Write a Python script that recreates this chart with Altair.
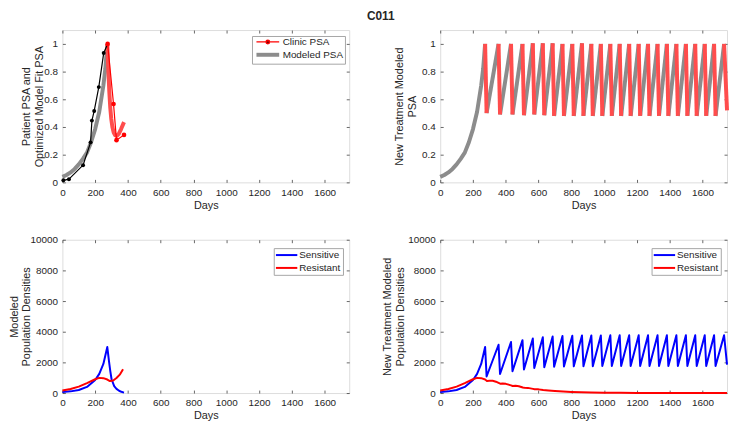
import altair as alt
import pandas as pd

FONT = "Liberation Sans"
TXT = "#262626"
BOX = "#a6a6a6"
GRAY = "#8c8c8c"
RED_THICK = "#ff4d4d"
RED = "#ff0000"
BLUE = "#0000ff"

X_MAX = 1750
X_TICKS = [0, 200, 400, 600, 800, 1000, 1200, 1400, 1600]
PSA_TICKS = [0, 0.2, 0.4, 0.6, 0.8, 1.0]
POP_TICKS = [0, 2000, 4000, 6000, 8000, 10000]

# ---- top-left : clinic PSA and fitted model ----
MODEL_PRE_DAY = [0, 25, 50, 75, 100, 125, 150, 175, 200, 225, 250, 262, 274]
MODEL_PRE_PSA = [0.040, 0.053, 0.072, 0.097, 0.13, 0.17, 0.215, 0.29, 0.385, 0.51, 0.70, 0.82, 1.0]
MODEL_TX_DAY = [274, 280, 286, 292, 298, 305, 313, 322, 332, 344, 358, 376]
MODEL_TX_PSA = [1.0, 0.82, 0.66, 0.54, 0.46, 0.40, 0.36, 0.34, 0.335, 0.35, 0.385, 0.435]
CLINIC_BLACK_DAY = [6, 40, 126, 172, 180, 194, 222, 252]
CLINIC_BLACK_PSA = [0.015, 0.023, 0.124, 0.289, 0.446, 0.516, 0.688, 0.934]
CLINIC_RED_DAY = [276, 312, 330, 376]
CLINIC_RED_PSA = [1.0, 0.566, 0.305, 0.343]

# ---- new treatment cycles ----
PEAK_DAY = [274, 356, 432, 502, 565, 626, 686, 746, 806, 865, 922, 980, 1038,
            1095, 1153, 1211, 1268, 1326, 1383, 1441, 1499, 1556, 1614, 1671, 1732]
TROUGH_DAY = [283, 365, 441, 511, 574, 635, 695, 755, 815, 874, 931, 989, 1047,
              1104, 1162, 1220, 1277, 1335, 1392, 1450, 1508, 1565, 1623, 1680, 1750]
PSA_PEAK = [1.0, 1.0, 1.0, 1.0, 1.005, 1.005, 1.005, 1.0, 1.0, 1.005, 1.0, 1.0, 1.0,
            1.0, 1.0, 1.0, 1.0, 1.0, 1.0, 1.0, 1.0, 1.0, 1.0, 1.0, 1.0]
PSA_TROUGH = [0.50, 0.49, 0.49, 0.485, 0.49, 0.485, 0.48, 0.48, 0.48, 0.48, 0.48, 0.48, 0.48,
              0.48, 0.48, 0.48, 0.48, 0.48, 0.48, 0.48, 0.48, 0.48, 0.48, 0.48, 0.52]
SENS_PEAK = [3000, 3150, 3330, 3450, 3560, 3640, 3690, 3720, 3740, 3750, 3760, 3760, 3770,
             3770, 3770, 3770, 3770, 3770, 3770, 3770, 3770, 3770, 3770, 3770, 3770]
SENS_TROUGH = [1080, 1240, 1420, 1540, 1630, 1680, 1710, 1730, 1740, 1750, 1750, 1760, 1760,
               1760, 1760, 1760, 1760, 1760, 1760, 1760, 1760, 1760, 1760, 1760, 1850]

# ---- population densities ----
SENS_PRE_DAY = [0, 50, 100, 150, 200, 225, 250, 274]
SENS_PRE = [60, 110, 200, 400, 850, 1250, 1900, 3000]
SENS1_TAIL_DAY = [284, 292, 300, 316, 330, 346, 360, 376]
SENS1_TAIL = [2100, 1450, 900, 450, 270, 150, 80, 30]
RES_PRE_DAY = [0, 50, 100, 150, 200, 225, 250, 274]
RES_PRE = [160, 260, 420, 650, 900, 990, 970, 880]
RES1_TAIL_DAY = [290, 310, 330, 350, 370]
RES1_TAIL = [780, 820, 980, 1200, 1550]
RES2_TAIL_DAY = [285, 300, 320, 340, 356, 366, 380, 400, 432, 442, 460, 480, 504, 514, 535,
                 566, 576, 600, 628, 660, 700, 750, 800, 860, 920, 1000, 1100, 1200, 1350, 1500, 1750]
RES2_TAIL = [790, 800, 800, 740, 660, 610, 620, 600, 500, 460, 470, 440, 360, 340, 335,
             270, 250, 240, 195, 165, 130, 95, 70, 48, 32, 20, 12, 8, 5, 3, 2]

W = 290
H_TOP = 154
H_BOT = 155


def xs():
    return alt.Scale(domain=[0, X_MAX], nice=False, zero=False)


def main_x():
    return alt.Axis(values=X_TICKS, title="Days", tickSize=0, domain=False, grid=False,
                    labelPadding=5, titlePadding=2, labelFlush=False, labelOverlap=False,
                    labelFontSize=10, titleFontSize=11, labelFont=FONT, titleFont=FONT,
                    labelColor=TXT, titleColor=TXT, titleFontWeight="normal", format="d")


def main_y(title, tx, lh, ticks, fmt):
    return alt.Axis(values=ticks, title=title, tickSize=0, domain=False, grid=False,
                    labelPadding=5, labelOverlap=False, format=fmt, titleX=tx, titleAngle=270,
                    titleBaseline="bottom", titleAlign="center", titleLineHeight=lh,
                    labelFontSize=10, titleFontSize=11, labelFont=FONT, titleFont=FONT,
                    labelColor=TXT, titleColor=TXT, titleFontWeight="normal")


def tick_layer(ydom, yticks, h, which):
    d = pd.DataFrame({"x": [X_TICKS[0]], "y": [yticks[0]]})
    common = dict(labels=False, tickSize=3, tickWidth=0.7, tickColor=TXT,
                  domain=False, grid=False, title=None)
    if which == "a":
        xa = alt.Axis(orient="top", offset=-h, values=X_TICKS, **common)
        ya = alt.Axis(orient="right", offset=-W, values=yticks, **common)
    else:
        xa = alt.Axis(orient="bottom", offset=-h, values=X_TICKS, **common)
        ya = alt.Axis(orient="left", offset=-W, values=yticks, **common)
    return alt.Chart(d).mark_point(opacity=0).encode(
        x=alt.X("x:Q", scale=xs(), axis=xa),
        y=alt.Y("y:Q", scale=alt.Scale(domain=ydom, nice=False, zero=False), axis=ya),
    )


def panel(layers, ydom, yticks, h):
    return alt.layer(*layers, tick_layer(ydom, yticks, h, "a"), tick_layer(ydom, yticks, h, "b")).resolve_axis(
        x="independent", y="independent").properties(width=W, height=h)


def line(df, ycol, ydom, color, width, xaxis=None, yaxis=None, detail=None):
    enc = dict(
        x=alt.X("day:Q", scale=xs(), axis=xaxis),
        y=alt.Y(f"{ycol}:Q", scale=alt.Scale(domain=ydom, nice=False, zero=False), axis=yaxis),
    )
    if detail:
        enc["detail"] = alt.Detail(f"{detail}:N")
    return alt.Chart(df).mark_line(color=color, strokeWidth=width, strokeJoin="round").encode(**enc)


PSA_DOM = [0, 1.1]
POP_DOM = [0, 10000]

# ---------------- panel 1 ----------------
df_pre = pd.DataFrame({"day": MODEL_PRE_DAY, "psa": MODEL_PRE_PSA})
df_tx = pd.DataFrame({"day": MODEL_TX_DAY, "psa": MODEL_TX_PSA})
df_cb = pd.DataFrame({"day": CLINIC_BLACK_DAY + CLINIC_RED_DAY[:1], "psa": CLINIC_BLACK_PSA + CLINIC_RED_PSA[:1]})
df_cbp = pd.DataFrame({"day": CLINIC_BLACK_DAY, "psa": CLINIC_BLACK_PSA})
df_cr = pd.DataFrame({"day": CLINIC_RED_DAY, "psa": CLINIC_RED_PSA})

NAMES1 = ["Clinic PSA", "Modeled PSA"]
PATH_CLINIC = "M-3.83,0L3.83,0M-0.63,0A0.63,0.63,0,1,0,0.63,0A0.63,0.63,0,1,0,-0.63,0Z"
PATH_MODEL = "M-3.83,0L3.83,0"
leg1 = alt.Legend(title=None, orient="none", legendX=191.7, legendY=6, strokeColor=BOX,
                  fillColor="white", padding=1, symbolSize=36, symbolOffset=10, labelOffset=10,
                  rowPadding=0, labelFontSize=10, labelFont=FONT, labelColor=TXT, cornerRadius=0)
df_leg1 = pd.DataFrame({"series": NAMES1, "day": [1000, 1000], "psa": [0.5, 0.5]})
legend_layer1 = alt.Chart(df_leg1).mark_point(filled=False, fill="black", opacity=0, size=36).encode(
    x=alt.X("day:Q", scale=xs(), axis=None),
    y=alt.Y("psa:Q", scale=alt.Scale(domain=PSA_DOM, nice=False, zero=False), axis=None),
    color=alt.Color("series:N", scale=alt.Scale(domain=NAMES1, range=[RED, GRAY]), legend=leg1),
    shape=alt.Shape("series:N", scale=alt.Scale(domain=NAMES1, range=[PATH_CLINIC, PATH_MODEL]), legend=leg1),
    strokeWidth=alt.StrokeWidth("series:O", scale=alt.Scale(domain=NAMES1, range=[1.2, 4]), legend=leg1),
)

p1_layers = [
    line(df_pre, "psa", PSA_DOM, GRAY, 4, main_x(),
         main_y(["Patient PSA and", "Optimized Model Fit PSA"], -31.5, 13, PSA_TICKS, "~g")),
    line(df_tx, "psa", PSA_DOM, RED_THICK, 4),
    line(df_cb, "psa", PSA_DOM, "black", 1.2),
    alt.Chart(df_cbp).mark_point(filled=True, size=16, color="black", opacity=1).encode(
        x=alt.X("day:Q", scale=xs(), axis=None),
        y=alt.Y("psa:Q", scale=alt.Scale(domain=PSA_DOM, nice=False, zero=False), axis=None)),
    line(df_cr, "psa", PSA_DOM, RED, 1.2),
    alt.Chart(df_cr).mark_point(filled=True, size=22, color=RED, opacity=1).encode(
        x=alt.X("day:Q", scale=xs(), axis=None),
        y=alt.Y("psa:Q", scale=alt.Scale(domain=PSA_DOM, nice=False, zero=False), axis=None)),
    legend_layer1,
]
p1 = panel(p1_layers, PSA_DOM, PSA_TICKS, H_TOP)

# ---------------- panel 2 ----------------
gray_rows = [{"day": d, "psa": v, "seg": 0} for d, v in zip(MODEL_PRE_DAY, MODEL_PRE_PSA)]
red_rows = []
for i in range(len(PEAK_DAY)):
    red_rows.append({"day": PEAK_DAY[i], "psa": PSA_PEAK[i], "seg": i})
    red_rows.append({"day": TROUGH_DAY[i], "psa": PSA_TROUGH[i], "seg": i})
    if i + 1 < len(PEAK_DAY):
        gray_rows.append({"day": TROUGH_DAY[i], "psa": PSA_TROUGH[i], "seg": i + 1})
        gray_rows.append({"day": PEAK_DAY[i + 1], "psa": PSA_PEAK[i + 1], "seg": i + 1})
df_gray = pd.DataFrame(gray_rows)
df_red = pd.DataFrame(red_rows)
p2 = panel([
    line(df_gray, "psa", PSA_DOM, GRAY, 4, main_x(),
         main_y(["New Treatment Modeled", "PSA"], -36.5, 13.5, PSA_TICKS, "~g"), detail="seg"),
    line(df_red, "psa", PSA_DOM, RED_THICK, 4, detail="seg"),
], PSA_DOM, PSA_TICKS, H_TOP)

# ---------------- panels 3, 4 ----------------
NAMES2 = ["Sensitive", "Resistant"]


def leg2():
    return alt.Legend(title=None, orient="none", legendX=213.7, legendY=8.5, strokeColor=BOX,
                      fillColor="white", padding=2, symbolType="M-2.7,0L2.7,0", symbolSize=64,
                      symbolStrokeWidth=2, symbolOffset=6, labelOffset=7.7, rowPadding=3,
                      labelFontSize=10, labelFont=FONT, labelColor=TXT, cornerRadius=0)


def pop_line(df, xaxis=None, yaxis=None):
    return alt.Chart(df).mark_line(strokeWidth=2, strokeJoin="round").encode(
        x=alt.X("day:Q", scale=xs(), axis=xaxis),
        y=alt.Y("pop:Q", scale=alt.Scale(domain=POP_DOM, nice=False, zero=False), axis=yaxis),
        color=alt.Color("series:N", scale=alt.Scale(domain=NAMES2, range=[BLUE, RED]), legend=leg2()),
    )


df_s1 = pd.DataFrame({"day": SENS_PRE_DAY + SENS1_TAIL_DAY, "pop": SENS_PRE + SENS1_TAIL, "series": "Sensitive"})
df_r1 = pd.DataFrame({"day": RES_PRE_DAY + RES1_TAIL_DAY, "pop": RES_PRE + RES1_TAIL, "series": "Resistant"})
p3 = panel([
    pop_line(df_s1, main_x(), main_y(["Modeled", "Population Densities"], -43.3, 12.5, POP_TICKS, "d")),
    pop_line(df_r1),
], POP_DOM, POP_TICKS, H_BOT)

s2_day = list(SENS_PRE_DAY)
s2_val = list(SENS_PRE)
for i in range(len(PEAK_DAY)):
    if i > 0:
        s2_day.append(PEAK_DAY[i])
        s2_val.append(SENS_PEAK[i])
    s2_day.append(TROUGH_DAY[i])
    s2_val.append(SENS_TROUGH[i])
df_s2 = pd.DataFrame({"day": s2_day, "pop": s2_val, "series": "Sensitive"})
df_r2 = pd.DataFrame({"day": RES_PRE_DAY + RES2_TAIL_DAY, "pop": RES_PRE + RES2_TAIL, "series": "Resistant"})
p4 = panel([
    pop_line(df_s2, main_x(), main_y(["New Treatment Modeled", "Population Densities"], -48.5, 13.5, POP_TICKS, "d")),
    pop_line(df_r2),
], POP_DOM, POP_TICKS, H_BOT)

chart = alt.concat(p1, p2, p3, p4, columns=2, spacing={"row": 58, "column": 92}, bounds="flush").resolve_scale(
    color="independent", shape="independent", strokeWidth="independent"
).properties(
    title=alt.Title("C011", fontSize=12, font=FONT, fontWeight="bold", color=TXT, anchor="middle", offset=6, dx=12),
    padding=0,
).configure_view(stroke=BOX, strokeWidth=0.8).configure(font=FONT)

chart.save("out.html", embed_options={"renderer": "svg", "actions": False})
